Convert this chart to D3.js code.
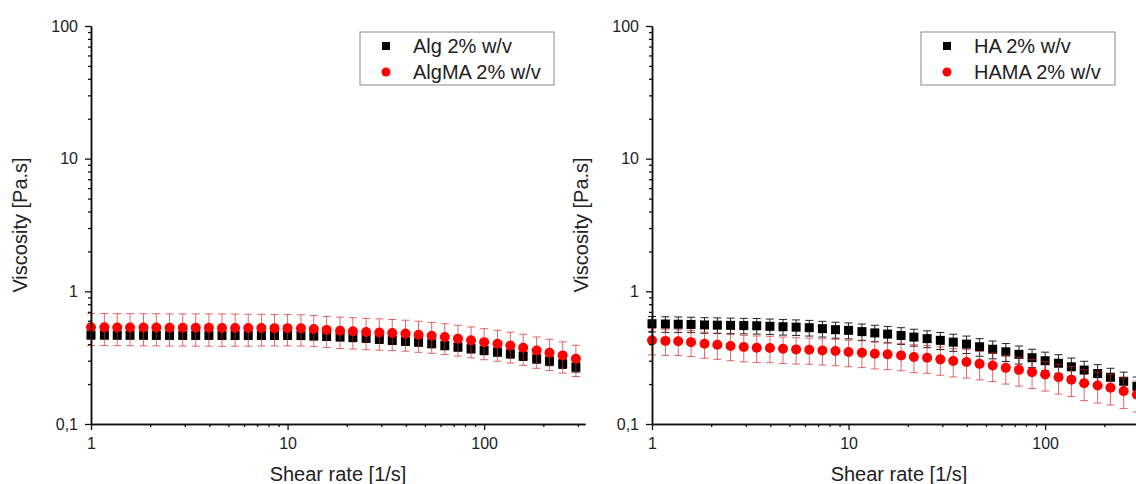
<!DOCTYPE html>
<html lang="en">
<head>
  <meta charset="UTF-8">
  <title>Viscosity vs shear rate</title>
  <style>
    body {
      margin: 0;
      background: #fff;
      font-family: Arial, 'Liberation Sans', sans-serif;
    }
    svg { display: block; }
    .axis path, .axis line { stroke: #111; }
    .axis path { stroke-width: 1.5; }
    .axis line { stroke-width: 1.3; }
    .axis text { font-size: 16px; fill: #222; font-family: Arial, 'Liberation Sans', sans-serif; }
    .title { font-size: 20px; fill: #222; }
    .legend-text { font-size: 20px; fill: #222; }
  </style>
  <script src="https://d3js.org/d3.v7.min.js"></script>
</head>
<body>
  <svg></svg>
  <script>
    // shear rate, 15 points per decade
    const shearRate = [1, 1.17, 1.36, 1.58, 1.85, 2.15, 2.51, 2.93, 3.41, 3.98, 4.64, 5.41, 6.31, 7.36, 8.58,
      10, 11.7, 13.6, 15.8, 18.5, 21.5, 25.1, 29.3, 34.1, 39.8, 46.4, 54.1, 63.1, 73.6, 85.8,
      100, 117, 136, 158, 185, 215, 251, 293];

    const algVisc = [0.468, 0.468, 0.467, 0.467, 0.467, 0.466, 0.466, 0.466, 0.466, 0.466, 0.465, 0.465, 0.465, 0.465, 0.465,
      0.465, 0.464, 0.461, 0.457, 0.453, 0.448, 0.443, 0.435, 0.427, 0.42, 0.414, 0.403, 0.39, 0.38, 0.369,
      0.358, 0.349, 0.338, 0.325, 0.31, 0.298, 0.284, 0.268];
    const algErr = [0.03, 0.03, 0.03, 0.03, 0.03, 0.03, 0.03, 0.03, 0.03, 0.03, 0.03, 0.03, 0.03, 0.03, 0.03,
      0.03, 0.03, 0.03, 0.03, 0.03, 0.03, 0.03, 0.03, 0.03, 0.028, 0.028, 0.027, 0.027, 0.026, 0.026,
      0.025, 0.025, 0.024, 0.024, 0.023, 0.023, 0.022, 0.022];

    const algmaVisc = [0.535, 0.535, 0.534, 0.534, 0.533, 0.533, 0.532, 0.532, 0.531, 0.531, 0.530, 0.530, 0.529, 0.529, 0.528,
      0.528, 0.526, 0.52, 0.512, 0.505, 0.5, 0.494, 0.49, 0.485, 0.48, 0.471, 0.462, 0.452, 0.44, 0.427,
      0.414, 0.403, 0.39, 0.376, 0.358, 0.344, 0.329, 0.31];
    const algmaErr = [0.145, 0.145, 0.145, 0.145, 0.145, 0.145, 0.145, 0.145, 0.145, 0.145, 0.145, 0.144, 0.143, 0.142, 0.141,
      0.14, 0.139, 0.137, 0.135, 0.134, 0.133, 0.131, 0.13, 0.128, 0.126, 0.124, 0.121, 0.118, 0.115, 0.112,
      0.109, 0.106, 0.102, 0.099, 0.095, 0.091, 0.087, 0.082];

    const haVisc = [0.570, 0.567, 0.565, 0.563, 0.558, 0.556, 0.554, 0.552, 0.550, 0.545, 0.541, 0.537, 0.532, 0.523, 0.514,
      0.508, 0.497, 0.486, 0.476, 0.465, 0.452, 0.44, 0.427, 0.414, 0.4, 0.382, 0.366, 0.35, 0.335, 0.316,
      0.3, 0.287, 0.27, 0.255, 0.24, 0.225, 0.21, 0.192];
    const haErr = [0.076, 0.076, 0.076, 0.075, 0.075, 0.075, 0.074, 0.074, 0.074, 0.073, 0.073, 0.072, 0.072, 0.071, 0.071,
      0.07, 0.07, 0.069, 0.068, 0.067, 0.066, 0.064, 0.063, 0.061, 0.06, 0.058, 0.056, 0.054, 0.052, 0.05,
      0.048, 0.046, 0.044, 0.042, 0.04, 0.038, 0.036, 0.034];

    const hamaVisc = [0.427, 0.423, 0.421, 0.414, 0.403, 0.396, 0.387, 0.38, 0.376, 0.374, 0.369, 0.365, 0.363, 0.358, 0.355,
      0.349, 0.345, 0.338, 0.335, 0.329, 0.32, 0.316, 0.307, 0.298, 0.293, 0.284, 0.276, 0.265, 0.256, 0.246,
      0.236, 0.225, 0.216, 0.203, 0.195, 0.188, 0.177, 0.167];
    const hamaErr = [0.095, 0.094, 0.093, 0.092, 0.09, 0.089, 0.087, 0.086, 0.085, 0.084, 0.083, 0.082, 0.081, 0.08, 0.08,
      0.079, 0.079, 0.078, 0.078, 0.077, 0.076, 0.075, 0.074, 0.072, 0.071, 0.069, 0.067, 0.065, 0.063, 0.061,
      0.059, 0.057, 0.055, 0.053, 0.051, 0.049, 0.046, 0.044];

    const xTickValues = [1, 10, 100];
    const xTickLabels = ["1", "10", "100"];
    const yTickValues = [0.1, 1, 10, 100];
    const yTickLabels = ["0,1", "1", "10", "100"];
    const xMinorTicks = [2, 3, 4, 5, 6, 7, 8, 9, 20, 30, 40, 50, 60, 70, 80, 90, 200, 300];
    const yMinorTicks = [0.2, 0.3, 0.4, 0.5, 0.6, 0.7, 0.8, 0.9, 2, 3, 4, 5, 6, 7, 8, 9, 20, 30, 40, 50, 60, 70, 80, 90];

    const width = 1136, height = 484;
    const svg = d3.select("svg").attr("width", width).attr("height", height);

    const panels = [
      { left: 91, series: [
          { name: "Alg 2% w/v", y: algVisc, err: algErr, shape: "square" },
          { name: "AlgMA 2% w/v", y: algmaVisc, err: algmaErr, shape: "circle" }] },
      { left: 652, series: [
          { name: "HA 2% w/v", y: haVisc, err: haErr, shape: "square" },
          { name: "HAMA 2% w/v", y: hamaVisc, err: hamaErr, shape: "circle" }] }
    ];

    const plotW = 494, plotTop = 26, plotBottom = 424;

    panels.forEach(p => {
      const g = svg.append("g").attr("transform", `translate(${p.left},0)`);

      const x = d3.scaleLog().domain([1, 326]).range([0, plotW]);
      const y = d3.scaleLog().domain([0.1, 100]).range([plotBottom, plotTop]);

      // data first, axes drawn on top
      p.series.forEach(s => {
        const isRed = s.shape === "circle";
        const errColor = isRed ? "rgba(215,40,40,0.7)" : "#222";
        const pts = shearRate.map((r, i) => ({ r, v: s.y[i], e: s.err[i] }));
        const sg = g.append("g");

        const eb = sg.selectAll("g.eb").data(pts).join("g").attr("class", "eb")
          .attr("stroke", errColor).attr("stroke-width", 1);
        eb.append("line")
          .attr("x1", d => x(d.r)).attr("x2", d => x(d.r))
          .attr("y1", d => y(d.v + d.e)).attr("y2", d => y(d.v - d.e));
        eb.append("line")
          .attr("x1", d => x(d.r) - 4).attr("x2", d => x(d.r) + 4)
          .attr("y1", d => y(d.v + d.e)).attr("y2", d => y(d.v + d.e));
        eb.append("line")
          .attr("x1", d => x(d.r) - 4).attr("x2", d => x(d.r) + 4)
          .attr("y1", d => y(d.v - d.e)).attr("y2", d => y(d.v - d.e));

        if (isRed) {
          sg.selectAll("circle").data(pts).join("circle")
            .attr("cx", d => x(d.r)).attr("cy", d => y(d.v)).attr("r", 5)
            .attr("fill", "#ff0000");
        } else {
          sg.selectAll("rect").data(pts).join("rect")
            .attr("x", d => x(d.r) - 4.5).attr("y", d => y(d.v) - 4.5)
            .attr("width", 9).attr("height", 9).attr("fill", "#000");
        }
      });

      // axes
      g.append("g").attr("class", "axis")
        .attr("transform", `translate(0,${plotBottom})`)
        .call(d3.axisBottom(x).tickValues(xTickValues)
          .tickFormat((d, i) => xTickLabels[i]).tickSize(6).tickPadding(8).tickSizeOuter(0));
      g.append("g").attr("class", "axis")
        .attr("transform", `translate(0,${plotBottom})`)
        .call(d3.axisBottom(x).tickValues(xMinorTicks).tickFormat("").tickSize(3).tickSizeOuter(0));

      g.append("g").attr("class", "axis")
        .call(d3.axisLeft(y).tickValues(yTickValues)
          .tickFormat((d, i) => yTickLabels[i]).tickSize(6).tickPadding(7).tickSizeOuter(0));
      g.append("g").attr("class", "axis")
        .call(d3.axisLeft(y).tickValues(yMinorTicks).tickFormat("").tickSize(3).tickSizeOuter(0));

      // titles
      g.append("text").attr("class", "title")
        .attr("x", plotW / 2).attr("y", 481).attr("text-anchor", "middle")
        .text("Shear rate [1/s]");
      g.append("text").attr("class", "title")
        .attr("transform", `translate(-64,${(plotTop + plotBottom) / 2}) rotate(-90)`)
        .attr("text-anchor", "middle")
        .text("Viscosity [Pa.s]");

      // legend
      const lg = g.append("g").attr("transform", "translate(269,32)");
      lg.append("rect").attr("width", 194).attr("height", 53)
        .attr("fill", "#fff").attr("stroke", "#888").attr("stroke-width", 1);
      p.series.forEach((s, i) => {
        const cy = 14 + i * 26;
        if (s.shape === "square") {
          lg.append("rect").attr("x", 22).attr("y", cy - 4).attr("width", 8).attr("height", 8).attr("fill", "#000");
        } else {
          lg.append("circle").attr("cx", 26).attr("cy", cy).attr("r", 4.5).attr("fill", "#ff0000");
        }
        lg.append("text").attr("class", "legend-text")
          .attr("x", 53).attr("y", cy + 7).text(s.name);
      });
    });
  </script>
</body>
</html>
